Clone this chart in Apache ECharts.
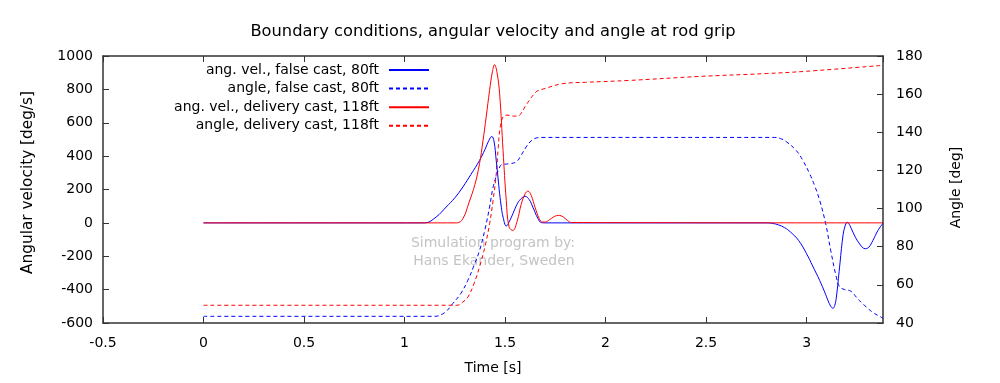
<!DOCTYPE html>
<html>
<head>
<meta charset="utf-8">
<script src="https://cdn.jsdelivr.net/npm/echarts@6/dist/echarts.min.js"></script>
<style>html,body{margin:0;padding:0;background:#fff;}#c{width:1000px;height:383px;}</style>
</head>
<body>
<div id="c"></div>
<script>
// ---- data ----
const seriesNames = [
  'ang. vel., false cast, 80ft',
  'angle, false cast, 80ft',
  'ang. vel., delivery cast, 118ft',
  'angle, delivery cast, 118ft'
];
const xTickValues = [-0.5, 0, 0.5, 1, 1.5, 2, 2.5, 3];

// ang. vel., false cast (deg/s)
const velFalseT = [0, 1.10, 1.157, 1.207, 1.25, 1.29, 1.33, 1.373, 1.40, 1.42, 1.434, 1.445, 1.456, 1.465, 1.473, 1.482, 1.49, 1.506, 1.52, 1.539, 1.555, 1.572, 1.60, 1.62, 1.638, 1.663, 1.68, 1.70, 2.80, 2.83, 2.86, 2.89, 2.92, 2.96, 3.00, 3.03, 3.065, 3.09, 3.106, 3.12, 3.131, 3.14, 3.148, 3.164, 3.18, 3.19, 3.202, 3.215, 3.23, 3.26, 3.292, 3.31, 3.33, 3.355, 3.38];
const velFalse  = [0, 0, 35, 95, 150, 215, 290, 374, 440, 495, 518, 490, 374, 270, 175, 90, 35, -19, 5, 55, 100, 135, 159, 140, 95, 27, 2, 0, 0, -3, -12, -28, -55, -105, -185, -258, -345, -415, -464, -500, -512, -495, -445, -265, -85, -25, 3, -15, -55, -120, -155, -145, -105, -45, -2];

// angle, false cast (deg)
const angFalseT = [0, 1.15, 1.20, 1.24, 1.28, 1.315, 1.345, 1.373, 1.40, 1.423, 1.44, 1.456, 1.47, 1.483, 1.52, 1.556, 1.58, 1.605, 1.63, 1.655, 1.68, 2.84, 2.87, 2.90, 2.948, 2.98, 3.015, 3.04, 3.065, 3.095, 3.12, 3.148, 3.164, 3.19, 3.214, 3.23, 3.247, 3.27, 3.297, 3.33, 3.363, 3.38];
const angFalse  = [43.5, 43.5, 45.5, 50.2, 55.5, 62.4, 70, 78, 89, 100.8, 111, 117, 121, 123, 123.5, 124.5, 128, 132.3, 135.5, 137, 137.3, 137.3, 136.7, 135, 130.5, 125.5, 118.3, 112, 104.3, 92, 78, 64, 59, 57.5, 57, 55.8, 53.6, 51, 48.4, 45.5, 43.5, 42.5];

// ang. vel., delivery cast (deg/s)
const velDelivT = [0, 1.26, 1.29, 1.32, 1.35, 1.373, 1.39, 1.406, 1.423, 1.437, 1.448, 1.46, 1.473, 1.49, 1.506, 1.52, 1.539, 1.56, 1.58, 1.60, 1.614, 1.63, 1.65, 1.67, 1.685, 1.70, 1.72, 1.745, 1.766, 1.79, 1.81, 1.83, 3.38];
const velDeliv  = [0, 0, 25, 120, 230, 355, 490, 634, 794, 905, 948, 900, 774, 434, 135, -25, -45, 10, 110, 175, 190, 165, 90, 25, 5, 5, 18, 38, 45, 35, 15, 2, 0];

// angle, delivery cast (deg)
const angDelivT = [0, 1.26, 1.29, 1.315, 1.345, 1.373, 1.40, 1.423, 1.44, 1.456, 1.466, 1.475, 1.49, 1.51, 1.54, 1.565, 1.58, 1.60, 1.62, 1.64, 1.66, 1.70, 1.786, 1.90, 2.12, 2.47, 2.80, 3.0, 3.38];
const angDeliv  = [49.3, 49.3, 51, 53.6, 60.5, 69.4, 80, 92, 104, 118, 132, 142, 148, 149, 148.5, 148.5, 150, 153.5, 156.7, 159.5, 161.6, 163, 165.5, 166.2, 167.2, 169.3, 170.8, 172, 175.1];

const pairs = (ts, vs) => ts.map((t, i) => [t, vs[i]]);

const FONT = 'DejaVu Sans';
const FRAME = '#333333';
const X_MIN = -0.5, X_MAX = 3.38;

const chart = echarts.init(document.getElementById('c'), null, {renderer: 'canvas'});

const axisCommonX = {
  type: 'value', min: X_MIN, max: X_MAX, interval: 0.5,
  axisLine: {show: true, onZero: false, lineStyle: {color: FRAME, width: 1.5}},
  axisTick: {show: true, inside: true, length: 6, lineStyle: {color: FRAME, width: 1}},
  splitLine: {show: false}
};

chart.setOption({
  animation: false,
  backgroundColor: '#ffffff',
  textStyle: {fontFamily: FONT},
  title: {
    text: 'Boundary conditions, angular velocity and angle at rod grip',
    left: 488, top: 19, textAlign: 'center',
    textStyle: {fontFamily: FONT, fontSize: 16.3, fontWeight: 'normal', color: '#000'}
  },
  legend: {
    orient: 'vertical', align: 'right', right: 570, top: 63, padding: 0,
    itemWidth: 40, itemHeight: 14, itemGap: 4.6,
    itemStyle: {color: 'rgba(0,0,0,0)', borderWidth: 0, opacity: 0},
    textStyle: {fontFamily: FONT, fontSize: 14, color: '#000', padding: [0, 5, 0, 0]},
    data: seriesNames
  },
  grid: {left: 103, right: 117, top: 56, bottom: 60, containLabel: false, outerBoundsMode: 'none'},
  xAxis: [
    Object.assign({}, axisCommonX, {
      position: 'bottom',
      name: 'Time [s]', nameLocation: 'middle', nameGap: 38, nameMoveOverlap: false,
      nameTextStyle: {fontFamily: FONT, fontSize: 14, color: '#000'},
      axisLabel: {
        show: true, margin: 13, fontFamily: FONT, fontSize: 14, color: '#000',
        showMaxLabel: false, hideOverlap: false,
        formatter: v => (xTickValues.some(t => Math.abs(t - v) < 1e-6) ? String(v) : '')
      }
    }),
    Object.assign({}, axisCommonX, {
      position: 'top',
      axisLabel: {show: false}
    })
  ],
  yAxis: [
    {
      type: 'value', min: -600, max: 1000, interval: 200, position: 'left',
      name: 'Angular velocity [deg/s]', nameLocation: 'middle', nameGap: 67, nameMoveOverlap: false,
      nameTextStyle: {fontFamily: FONT, fontSize: 15.3, color: '#000', padding: [0, 0, 0, 14]},
      axisLine: {show: true, onZero: false, lineStyle: {color: FRAME, width: 1.5}},
      axisTick: {show: true, inside: true, length: 6, lineStyle: {color: FRAME, width: 1}},
      axisLabel: {margin: 10, fontFamily: FONT, fontSize: 14, color: '#000', hideOverlap: false,
                  formatter: v => String(v)},
      splitLine: {show: false}
    },
    {
      type: 'value', min: 40, max: 180, interval: 20, position: 'right',
      name: 'Angle [deg]', nameLocation: 'middle', nameGap: 66, nameMoveOverlap: false,
      nameTextStyle: {fontFamily: FONT, fontSize: 14, color: '#000', padding: [0, 0, 0, 4]},
      axisLine: {show: true, onZero: false, lineStyle: {color: FRAME, width: 1.5}},
      axisTick: {show: true, inside: true, length: 6, lineStyle: {color: FRAME, width: 1}},
      axisLabel: {margin: 13, fontFamily: FONT, fontSize: 14, color: '#000', hideOverlap: false,
                  formatter: v => String(v)},
      splitLine: {show: false}
    }
  ],
  graphic: [
    {type: 'text', z: 0, x: 493, y: 243, style: {text: 'Simulation program by:', align: 'center', verticalAlign: 'middle', fill: '#c4c4c4', font: '14px "DejaVu Sans"'}},
    {type: 'text', z: 0, x: 494, y: 261, style: {text: 'Hans Ekander, Sweden', align: 'center', verticalAlign: 'middle', fill: '#c4c4c4', font: '14px "DejaVu Sans"'}}
  ],
  series: [
    {name: seriesNames[0], type: 'line', xAxisIndex: 0, yAxisIndex: 0, data: pairs(velFalseT, velFalse),
     symbol: 'none', smooth: 0.4, color: '#0000ff', lineStyle: {color: '#0000ff', width: 1}, z: 4},
    {name: seriesNames[1], type: 'line', xAxisIndex: 0, yAxisIndex: 1, data: pairs(angFalseT, angFalse),
     symbol: 'none', smooth: 0.4, color: '#0000ff', lineStyle: {color: '#0000ff', width: 1, type: [4, 3]}, z: 3},
    {name: seriesNames[2], type: 'line', xAxisIndex: 0, yAxisIndex: 0, data: pairs(velDelivT, velDeliv),
     symbol: 'none', smooth: 0.4, color: '#ff0000', lineStyle: {color: '#ff0000', width: 1}, z: 5},
    {name: seriesNames[3], type: 'line', xAxisIndex: 0, yAxisIndex: 1, data: pairs(angDelivT, angDeliv),
     symbol: 'none', smooth: 0.4, color: '#ff0000', lineStyle: {color: '#ff0000', width: 1, type: [4, 3]}, z: 3}
  ]
});
</script>
</body>
</html>
